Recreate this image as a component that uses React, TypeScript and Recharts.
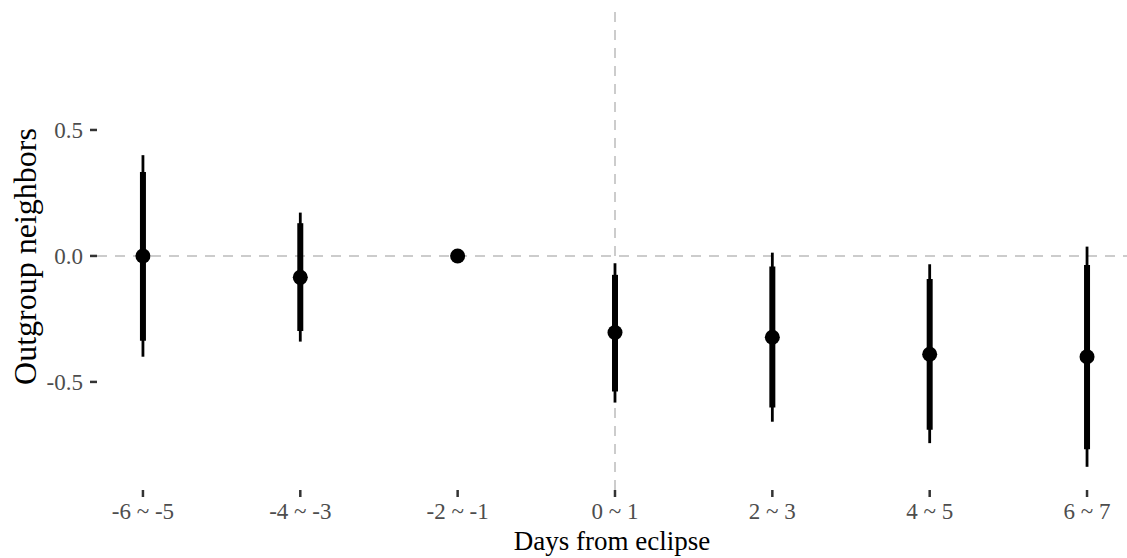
import React from 'react';
import {
  ComposedChart,
  Scatter,
  ErrorBar,
  XAxis,
  YAxis,
  ReferenceLine,
} from 'recharts';

// Two-day bins around the eclipse
const periods = ['-6 ~ -5', '-4 ~ -3', '-2 ~ -1', '0 ~ 1', '2 ~ 3', '4 ~ 5', '6 ~ 7'];

// Point estimates (reference period -2 ~ -1 fixed at 0)
const estimates = [0, -0.085, 0, -0.304, -0.323, -0.39, -0.4];

// Inner (thick) interval bounds
const innerLow = [-0.337, -0.298, 0, -0.538, -0.602, -0.69, -0.767];
const innerHigh = [0.333, 0.13, 0, -0.075, -0.042, -0.092, -0.036];

// Outer (thin) interval bounds
const outerLow = [-0.4, -0.34, 0, -0.582, -0.658, -0.743, -0.837];
const outerHigh = [0.4, 0.172, 0, -0.029, 0.013, -0.033, 0.037];

const yTicks = [-0.5, 0, 0.5];

const rows = periods.map((p, i) => ({
  x: i,
  label: p,
  est: estimates[i],
  innerErr: [estimates[i] - innerLow[i], innerHigh[i] - estimates[i]],
  outerErr: [estimates[i] - outerLow[i], outerHigh[i] - estimates[i]],
}));

const FONT = '"Liberation Serif", "Times New Roman", serif';

const Dot = (props: any) => (
  <circle cx={props.cx} cy={props.cy} r={7.5} fill="#000000" />
);

const YTitle = (props: any) => {
  const vb = props.viewBox;
  const cx = 25;
  const cy = vb.y + vb.height / 2 + 9;
  return (
    <text
      x={cx}
      y={cy}
      transform={`rotate(-90, ${cx}, ${cy})`}
      textAnchor="middle"
      dominantBaseline="central"
      fontFamily={FONT}
      fontSize={32}
      fill="#000000"
    >
      Outgroup neighbors
    </text>
  );
};

export default function App() {
  return (
    <div style={{ position: 'absolute', left: 0, top: 0, width: 1127, height: 558, background: '#ffffff' }}>
      <ComposedChart
        width={1127}
        height={558}
        data={rows}
        margin={{ top: 5, right: 0, bottom: 0, left: 0 }}
      >
        <XAxis
          type="number"
          dataKey="x"
          domain={[-0.292, 6.254]}
          allowDataOverflow
          ticks={[0, 1, 2, 3, 4, 5, 6]}
          tickFormatter={(v: number) => periods[v] ?? ''}
          axisLine={false}
          tickLine={{ stroke: '#333333', strokeWidth: 2.5 }}
          tickSize={7}
          tickMargin={6}
          height={68}
          tick={{ fontFamily: FONT, fontSize: 23, fill: '#4d4d4d' }}
          label={{
            value: 'Days from eclipse',
            position: 'insideBottom',
            offset: 8,
            fontFamily: FONT,
            fontSize: 27,
            fill: '#000000',
          }}
        />
        <YAxis
          type="number"
          domain={[-0.929, 0.996]}
          allowDataOverflow
          ticks={yTicks}
          tickFormatter={(v: number) => v.toFixed(1)}
          axisLine={false}
          tickLine={{ stroke: '#333333', strokeWidth: 2.5 }}
          tickSize={7}
          tickMargin={7}
          width={97}
          tick={{ fontFamily: FONT, fontSize: 23, fill: '#4d4d4d' }}
          label={{ content: YTitle }}
        />
        <ReferenceLine y={0} stroke="#cccccc" strokeWidth={2} strokeDasharray="10 8" />
        <ReferenceLine x={3} stroke="#cccccc" strokeWidth={2} strokeDasharray="10 8" />
        <Scatter dataKey="est" shape={Dot} isAnimationActive={false}>
          <ErrorBar
            dataKey="outerErr"
            direction="y"
            width={0}
            stroke="#000000"
            strokeWidth={2.8}
            isAnimationActive={false}
          />
          <ErrorBar
            dataKey="innerErr"
            direction="y"
            width={0}
            stroke="#000000"
            strokeWidth={6}
            isAnimationActive={false}
          />
        </Scatter>
      </ComposedChart>
    </div>
  );
}
